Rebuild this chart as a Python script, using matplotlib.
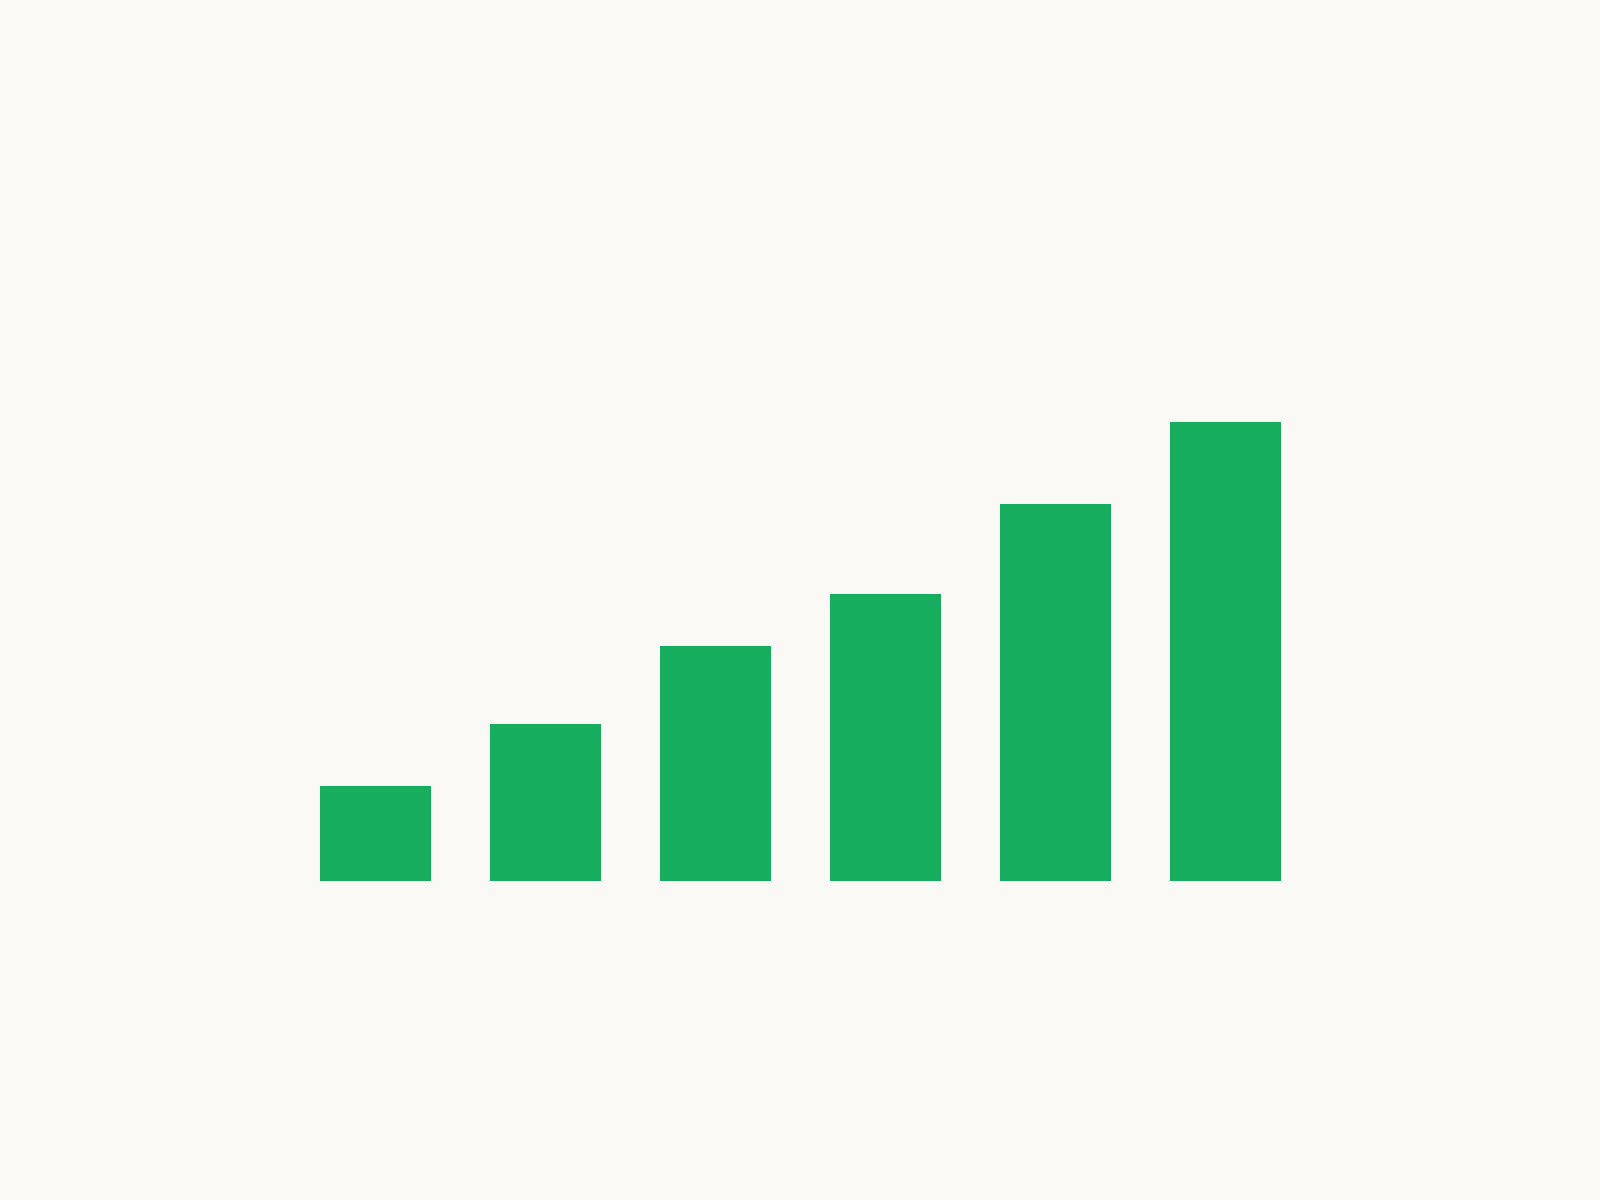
import numpy as np
import matplotlib.pyplot as plt

# data (no labels shown)
categories = ["A", "B", "C", "D", "E", "F"]
values = [12.4, 20.5, 30.75, 37.5, 49.25, 60]

bar_color = "#17ad5f"
bg_color = "#faf9f5"

fig = plt.figure(figsize=(16, 12), dpi=100, facecolor=bg_color)
ax = fig.add_axes([0.1816, 0.2658, 0.6375, 0.446])
ax.set_facecolor(bg_color)

x = np.arange(len(categories))
ax.bar(x, values, width=0.65, color=bar_color, linewidth=0)

ax.set_xlim(-0.5, len(categories) - 0.5)
ax.set_ylim(0, 70)
ax.axis("off")

fig.savefig("out.png", dpi=100, facecolor=bg_color)
